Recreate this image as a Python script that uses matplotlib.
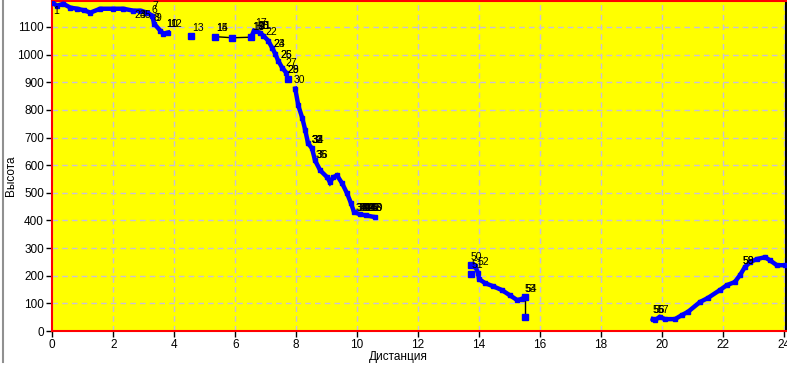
import matplotlib
matplotlib.use("Agg")
import matplotlib.pyplot as plt
from matplotlib.lines import Line2D

plt.rcParams['font.family'] = ['Liberation Sans', 'DejaVu Sans']

# ---- data (distance, height) ----
segA_x = [0.0, 0.16, 0.36, 0.59, 0.82, 1.05, 1.25, 1.57, 2.0, 2.33, 2.66, 2.89, 3.11, 3.28, 3.34, 3.54, 3.64, 3.80]
segA_y = [1188, 1177, 1184, 1170, 1166, 1160, 1152, 1166, 1166, 1166, 1159, 1159, 1152, 1141, 1112, 1087, 1076, 1080]

pt13_x = [4.56]
pt13_y = [1069]

segC_thin_x = [5.34, 5.90, 6.52]
segC_thin_y = [1065, 1061, 1063]

segC_x = [6.52, 6.62, 6.82, 6.92, 7.08, 7.21, 7.31, 7.41, 7.54, 7.67]
segC_y = [1063, 1087, 1079, 1069, 1051, 1025, 1004, 978, 953, 935]

pt29_x = [7.74]
pt29_y = [913]

segE_x = [7.97, 8.07, 8.20, 8.30, 8.39, 8.52, 8.62, 8.79, 9.02, 9.11, 9.21, 9.34, 9.51, 9.67, 9.80, 9.90, 10.10, 10.30, 10.59]
segE_y = [877, 816, 771, 726, 679, 661, 617, 581, 556, 538, 556, 563, 534, 498, 462, 430, 422, 418, 412]

pts50_x = [13.74, 13.74]
pts50_y = [238, 206]

segF_x = [13.87, 13.97, 14.00, 14.20, 14.46, 14.75, 15.00, 15.25, 15.41, 15.50]
segF_y = [235, 209, 188, 173, 162, 148, 130, 112, 116, 123]

segF_thin_x = [15.50, 15.50]
segF_thin_y = [123, 51]

segG_x = [19.70, 19.77, 19.93, 20.10, 20.43, 20.66, 20.85, 21.25, 21.50, 21.90, 22.13, 22.39, 22.56, 22.72, 22.89, 23.11, 23.38, 23.54, 23.77, 24.03]
segG_y = [43, 40, 51, 43, 43, 58, 69, 105, 119, 148, 166, 177, 202, 231, 249, 260, 267, 256, 238, 238]

# waypoint labels (text, distance, height)
wp_text = ['1', '2', '3', '4', '5', '6', '7', '8', '9', '10', '11', '12', '13', '14', '15',
           '16', '17', '18', '19', '20', '21', '22', '23', '24', '25', '26', '27', '28', '29', '30',
           '31', '32', '33', '34', '35', '36',
           '37', '38', '39', '40', '41', '42', '43', '44', '45', '46', '47', '48', '49',
           '50', '51', '52', '53', '54', '55', '56', '57', '58', '59']
wp_x = [0.02, 2.71, 2.86, 2.88, 3.04, 3.24, 3.27, 3.33, 3.40, 3.73, 3.73, 3.86, 4.58, 5.37, 5.37,
        6.55, 6.65, 6.71, 6.58, 6.74, 6.81, 7.00, 7.27, 7.27, 7.47, 7.47, 7.66, 7.73, 7.73, 7.92,
        8.51, 8.51, 8.51, 8.53, 8.65, 8.66,
        9.96, 10.0, 10.05, 10.09, 10.13, 10.17, 10.22, 10.26, 10.30, 10.35, 10.40, 10.44, 10.49,
        13.73, 13.76, 13.96, 15.50, 15.52, 19.70, 19.72, 19.86, 22.65, 22.66]
wp_y = [1140, 1127, 1127, 1127, 1127, 1142, 1158, 1116, 1116, 1094, 1094, 1094, 1080, 1080, 1080,
        1083, 1096, 1087, 1083, 1087, 1087, 1064, 1019, 1019, 979, 979, 950, 928, 928, 889,
        672, 672, 672, 672, 618, 618,
        427, 427, 427, 427, 427, 427, 427, 427, 427, 427, 427, 427, 427,
        250, 222, 232, 135, 135, 59, 59, 59, 236, 236]

x_ticks = [0, 2, 4, 6, 8, 10, 12, 14, 16, 18, 20, 22, 24]
y_ticks = [0, 100, 200, 300, 400, 500, 600, 700, 800, 900, 1000, 1100]

W, H = 787, 365
fig = plt.figure(figsize=(W / 100, H / 100), dpi=100)
fig.patch.set_facecolor('white')
ax = fig.add_axes([52.3 / W, (H - 331) / H, (786 - 52.3) / W, 330 / H])
ax.set_facecolor('#ffff00')

blue = '#0000ff'
ms = 3.2
dense_kw = dict(color=blue, lw=3.2, marker='s', ms=ms, mfc=blue, mec=blue, solid_joinstyle='miter', zorder=3)
thin_kw = dict(color='black', lw=1.0, marker='s', ms=ms + 0.6, mfc=blue, mec=blue, zorder=3)
pt_kw = dict(color=blue, lw=0, marker='s', ms=ms + 0.8, mfc=blue, mec=blue, zorder=3)

ax.plot(segA_x, segA_y, **dense_kw)
ax.plot(pt13_x, pt13_y, **pt_kw)
ax.plot(segC_thin_x, segC_thin_y, **thin_kw)
ax.plot(segC_x, segC_y, **dense_kw)
ax.plot(pt29_x, pt29_y, **pt_kw)
ax.plot(segE_x, segE_y, **dense_kw)
ax.plot(pts50_x, pts50_y, **pt_kw)
ax.plot(segF_x, segF_y, **dense_kw)
ax.plot(segF_thin_x, segF_thin_y, **thin_kw)
ax.plot(segG_x, segG_y, **dense_kw)

for t, x, y in zip(wp_text, wp_x, wp_y):
    ax.text(x, y, t, fontsize=7.5, color='black', ha='left', va='bottom', zorder=4, clip_on=False)

ax.set_xlim(0, 24.07)
ax.set_ylim(0, 1194)
ax.set_xticks(x_ticks)
ax.set_yticks(y_ticks)
ax.set_xticklabels([str(v) for v in x_ticks], fontsize=8.5)
ax.set_yticklabels([str(v) for v in y_ticks], fontsize=8.5)
ax.tick_params(axis='both', direction='out', length=4, width=1, color='black', pad=2)

ax.grid(True, color='#c8c0d8', linestyle=(0, (4, 3)), linewidth=1)
ax.set_axisbelow(True)

for side in ['left', 'bottom', 'top']:
    ax.spines[side].set_color('#ff0000')
    ax.spines[side].set_linewidth(1.5)
ax.spines['right'].set_color('black')
ax.spines['right'].set_linewidth(1.5)

ax.set_xlabel('Дистанция', fontsize=8.5)
ax.set_ylabel('Высота', fontsize=8.5)
ax.xaxis.set_label_coords(0.471, -0.06)
ax.yaxis.set_label_coords(-0.048, 0.47)

fig.add_artist(Line2D([2.5 / W, 2.5 / W], [1 - 362 / H, 1.0], transform=fig.transFigure,
                      color='#909090', lw=1.5))

fig.savefig('out.png', dpi=100, facecolor='white')
